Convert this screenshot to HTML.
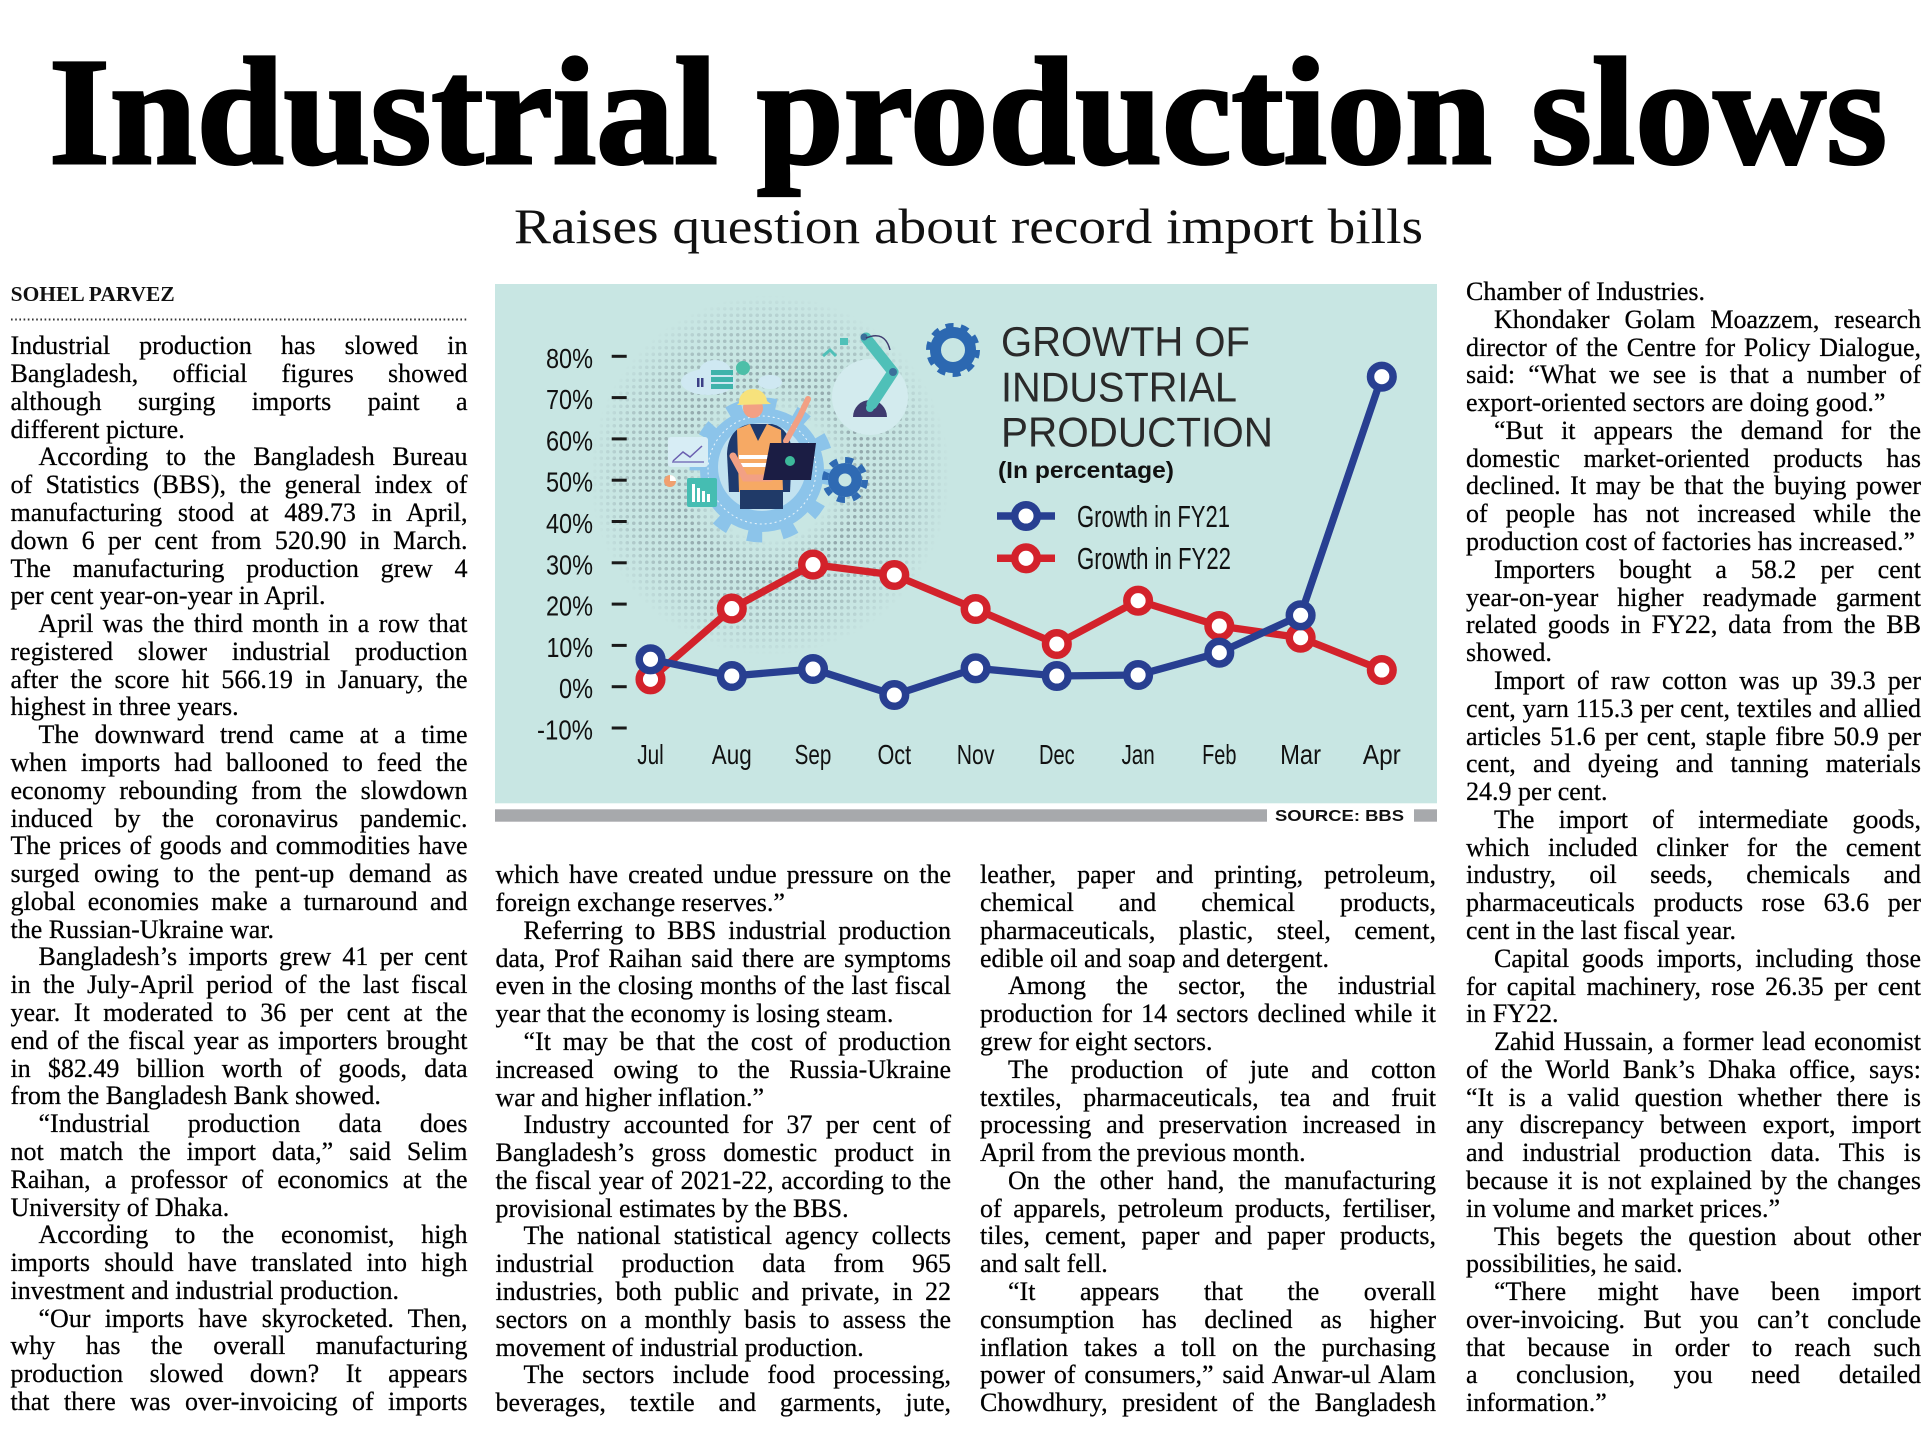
<!DOCTYPE html>
<html>
<head>
<meta charset="utf-8">
<style>
html,body{margin:0;padding:0;background:#fff;}
body{width:1931px;height:1431px;position:relative;overflow:hidden;}
svg.main{position:absolute;left:0;top:0;}
.col{position:absolute;font-family:"Liberation Serif",serif;font-size:26px;line-height:27.78px;color:#000;-webkit-text-stroke:0.25px #000;}
.col div{white-space:nowrap;text-align:justify;text-align-last:justify;}
.col div.e{text-align-last:left;}
.col div.i{text-indent:28px;}
</style>
</head>
<body>
<svg class="main" width="1931" height="1431" viewBox="0 0 1931 1431" xmlns="http://www.w3.org/2000/svg">
  <defs>
    <pattern id="dp" width="6.5" height="6.5" patternUnits="userSpaceOnUse"><circle cx="3.25" cy="3.25" r="1.8" fill="#8a9ea3"/></pattern>
    <radialGradient id="rg" cx="770" cy="475" r="180" gradientUnits="userSpaceOnUse">
      <stop offset="0.36" stop-color="#fff" stop-opacity="0"/>
      <stop offset="0.52" stop-color="#fff" stop-opacity="1"/>
      <stop offset="0.8" stop-color="#fff" stop-opacity="0.6"/>
      <stop offset="1" stop-color="#fff" stop-opacity="0"/>
    </radialGradient>
    <mask id="m"><circle cx="770" cy="475" r="180" fill="url(#rg)"/></mask>
  </defs>

  <!-- Headline -->
  <text x="49" y="163" font-family="Liberation Serif, serif" font-weight="bold" font-size="153" textLength="1838" lengthAdjust="spacingAndGlyphs" fill="#000" stroke="#000" stroke-width="3">Industrial production slows</text>
  <text x="514" y="243" font-family="Liberation Serif, serif" font-size="50" textLength="909" lengthAdjust="spacingAndGlyphs" fill="#111">Raises question about record import bills</text>

  <!-- Byline -->
  <text x="10.7" y="301" font-family="Liberation Serif, serif" font-weight="bold" font-size="21" textLength="164" lengthAdjust="spacingAndGlyphs" fill="#111">SOHEL PARVEZ</text>
  <line x1="11" y1="319.5" x2="467" y2="319.5" stroke="#333" stroke-width="2" stroke-dasharray="1.6 2.6"/>

  <!-- Chart panel -->
  <rect x="495" y="284" width="942" height="519.3" fill="#c8e6e3"/>
  <rect x="495" y="809.3" width="772" height="12.4" fill="#a7a9ac"/>
  <rect x="1414" y="809.3" width="23" height="12.4" fill="#a7a9ac"/>
  <text x="1275" y="821" font-family="Liberation Sans, sans-serif" font-weight="bold" font-size="15.5" textLength="129" lengthAdjust="spacingAndGlyphs" fill="#111">SOURCE: BBS</text>

  <!-- Illustration -->
  <rect x="585" y="290" width="370" height="365" fill="url(#dp)" mask="url(#m)" opacity="0.85"/>
  <circle cx="870" cy="397" r="38" fill="#d3ebee"/>
  <circle cx="762" cy="470" r="67" fill="none" stroke="#8cc4ea" stroke-width="11" stroke-dasharray="15 20"/>
  <circle cx="762" cy="470" r="62" fill="#8cc4ea"/>
  <circle cx="762" cy="470" r="54" fill="none" stroke="#eaf5fb" stroke-width="1" stroke-dasharray="2 3"/>
  <circle cx="762" cy="467" r="44" fill="#c2e2f0"/>
  <ellipse cx="708" cy="382" rx="27" ry="13" fill="#cfe8f2"/>
  <ellipse cx="715" cy="372" rx="16" ry="12" fill="#cfe8f2"/>
  <ellipse cx="770" cy="382" rx="12" ry="7" fill="#cfe8f2"/>
  <rect x="711" y="370" width="22" height="5" fill="#3fb3ab"/>
  <rect x="711" y="377" width="22" height="5" fill="#3fb3ab"/>
  <rect x="711" y="384" width="22" height="5" fill="#3fb3ab"/>
  <rect x="697" y="378" width="2.5" height="9" fill="#3b3f85"/>
  <rect x="701" y="378" width="2.5" height="9" fill="#3b3f85"/>
  <circle cx="743" cy="368" r="7" fill="#4dbfa8"/>
  <rect x="668" y="437" width="40" height="30" rx="3" fill="#d7edf5"/>
  <polyline points="673,461 683,452 690,457 702,446" fill="none" stroke="#6a5fb0" stroke-width="1.5"/>
  <line x1="672" y1="462" x2="704" y2="462" stroke="#6a5fb0" stroke-width="1.2"/>
  <circle cx="670" cy="481" r="6" fill="#f0a070"/>
  <path d="M670,481 L670,475 A6,6 0 0,1 676,481 Z" fill="#fff"/>
  <rect x="687" y="478" width="30" height="29" rx="2" fill="#45bdb2"/>
  <rect x="692" y="484" width="3" height="18" fill="#fff"/>
  <rect x="697" y="488" width="3" height="14" fill="#fff"/>
  <rect x="702" y="491" width="3" height="11" fill="#fff"/>
  <rect x="707" y="494" width="3" height="8" fill="#fff"/>
  <path d="M727,454 Q728,428 750,424 L772,424 Q790,428 792,452 L790,492 L729,492 Z" fill="#1e3a6e"/>
  <path d="M737,429 L750,424 L758,441 L767,424 L781,430 L783,492 L739,492 Z" fill="#f6a964"/>
  <rect x="739" y="455" width="44" height="4" fill="#fff"/>
  <rect x="739" y="463" width="44" height="4" fill="#fff"/>
  <rect x="740" y="490" width="43" height="19" fill="#203a68"/>
  <circle cx="753" cy="408" r="10" fill="#f2a084"/>
  <path d="M739,403 A14,13 0 0,1 767,401 L771,404 L737,405 Z" fill="#f7e27c"/>
  <polyline points="786,441 800,416 808,399" fill="none" stroke="#f2a084" stroke-width="6" stroke-linecap="round"/>
  <polyline points="733,456 745,478 770,478" fill="none" stroke="#f2a084" stroke-width="7" stroke-linecap="round"/>
  <polygon points="770,443 816,443 811,480 763,480" fill="#1b1d44"/>
  <circle cx="790" cy="461" r="5" fill="#3db99a"/>
  <circle cx="845" cy="480" r="20" fill="none" stroke="#2f6ab3" stroke-width="6" stroke-dasharray="8 7.7"/>
  <circle cx="845" cy="480" r="17" fill="#2f6ab3"/>
  <circle cx="845" cy="480" r="6.5" fill="#c8e6e3"/>
  <path d="M853,417 A17,17 0 0,1 887,417 Z" fill="#3f3b6f"/>
  <polyline points="872,404 893,372 866,338" fill="none" stroke="#4fc0b8" stroke-width="11" stroke-linecap="round" stroke-linejoin="round"/>
  <circle cx="893" cy="372" r="4" fill="#3b6f9a"/>
  <circle cx="864" cy="337" r="3.5" fill="#3b6f9a"/>
  <circle cx="870" cy="408" r="4" fill="#4fc0b8"/>
  <path d="M866,338 Q885,330 890,350" fill="none" stroke="#3f3b6f" stroke-width="1.5"/>
  <polyline points="823,356 830,350 836,356" fill="none" stroke="#4fc0b8" stroke-width="3"/>
  <rect x="840" y="338" width="8" height="7" fill="#4fc0b8"/>
  <circle cx="953" cy="350" r="24.5" fill="none" stroke="#2c68b1" stroke-width="5" stroke-dasharray="8 7.4"/>
  <circle cx="953" cy="350" r="17.5" fill="none" stroke="#2c68b1" stroke-width="11"/>

  <!-- Legend / title -->
  <g font-family="Liberation Sans, sans-serif" fill="#2a2a2a">
    <text x="1001" y="356" font-size="42" textLength="249" lengthAdjust="spacingAndGlyphs">GROWTH OF</text>
    <text x="1001" y="401.7" font-size="42" textLength="236" lengthAdjust="spacingAndGlyphs">INDUSTRIAL</text>
    <text x="1001" y="446.7" font-size="42" textLength="272" lengthAdjust="spacingAndGlyphs">PRODUCTION</text>
  </g>
  <g font-family="Liberation Sans Narrow, Liberation Sans, sans-serif" fill="#111">
    <text x="998" y="478" font-size="23" font-weight="bold" textLength="176" lengthAdjust="spacingAndGlyphs">(In percentage)</text>
    <text x="1077" y="527" font-size="31" textLength="153" lengthAdjust="spacingAndGlyphs">Growth in FY21</text>
    <text x="1077" y="569" font-size="31" textLength="154" lengthAdjust="spacingAndGlyphs">Growth in FY22</text>
  </g>
  <line x1="997" y1="516" x2="1055" y2="516" stroke="#283f91" stroke-width="7.5"/>
  <circle cx="1026" cy="516" r="11.3" fill="#fff" stroke="#283f91" stroke-width="7.5"/>
  <line x1="997" y1="558.3" x2="1055" y2="558.3" stroke="#d3222b" stroke-width="7.5"/>
  <circle cx="1026" cy="558.3" r="11.3" fill="#fff" stroke="#d3222b" stroke-width="7.5"/>

  <!-- Y axis ticks -->
  <g stroke="#1a1a1a" stroke-width="3">
    <line x1="611.7" y1="356.3" x2="626.7" y2="356.3"/>
    <line x1="611.7" y1="397.6" x2="626.7" y2="397.6"/>
    <line x1="611.7" y1="438.9" x2="626.7" y2="438.9"/>
    <line x1="611.7" y1="480.2" x2="626.7" y2="480.2"/>
    <line x1="611.7" y1="521.5" x2="626.7" y2="521.5"/>
    <line x1="611.7" y1="562.8" x2="626.7" y2="562.8"/>
    <line x1="611.7" y1="604.1" x2="626.7" y2="604.1"/>
    <line x1="611.7" y1="645.4" x2="626.7" y2="645.4"/>
    <line x1="611.7" y1="686.7" x2="626.7" y2="686.7"/>
    <line x1="611.7" y1="728.0" x2="626.7" y2="728.0"/>
  </g>
  <g font-family="Liberation Sans Narrow, Liberation Sans, sans-serif" font-size="28" fill="#111">
    <text x="546" y="367.8" textLength="47" lengthAdjust="spacingAndGlyphs">80%</text>
    <text x="546" y="409.1" textLength="47" lengthAdjust="spacingAndGlyphs">70%</text>
    <text x="546" y="450.4" textLength="47" lengthAdjust="spacingAndGlyphs">60%</text>
    <text x="546" y="491.7" textLength="47" lengthAdjust="spacingAndGlyphs">50%</text>
    <text x="546" y="533.0" textLength="47" lengthAdjust="spacingAndGlyphs">40%</text>
    <text x="546" y="574.3" textLength="47" lengthAdjust="spacingAndGlyphs">30%</text>
    <text x="546" y="615.6" textLength="47" lengthAdjust="spacingAndGlyphs">20%</text>
    <text x="546.5" y="656.9" textLength="46.5" lengthAdjust="spacingAndGlyphs">10%</text>
    <text x="559" y="698.2" textLength="34" lengthAdjust="spacingAndGlyphs">0%</text>
    <text x="537" y="739.5" textLength="56" lengthAdjust="spacingAndGlyphs">-10%</text>
    <text x="650.5" y="764" text-anchor="middle" textLength="26.6" lengthAdjust="spacingAndGlyphs">Jul</text>
    <text x="731.8" y="764" text-anchor="middle" textLength="40" lengthAdjust="spacingAndGlyphs">Aug</text>
    <text x="813.0" y="764" text-anchor="middle" textLength="36.7" lengthAdjust="spacingAndGlyphs">Sep</text>
    <text x="894.3" y="764" text-anchor="middle" textLength="33.7" lengthAdjust="spacingAndGlyphs">Oct</text>
    <text x="975.6" y="764" text-anchor="middle" textLength="37.7" lengthAdjust="spacingAndGlyphs">Nov</text>
    <text x="1056.8" y="764" text-anchor="middle" textLength="35.7" lengthAdjust="spacingAndGlyphs">Dec</text>
    <text x="1138.1" y="764" text-anchor="middle" textLength="33.3" lengthAdjust="spacingAndGlyphs">Jan</text>
    <text x="1219.3" y="764" text-anchor="middle" textLength="34.3" lengthAdjust="spacingAndGlyphs">Feb</text>
    <text x="1300.6" y="764" text-anchor="middle" textLength="41" lengthAdjust="spacingAndGlyphs">Mar</text>
    <text x="1381.8" y="764" text-anchor="middle" textLength="38" lengthAdjust="spacingAndGlyphs">Apr</text>
  </g>

  <!-- FY22 red series -->
  <polyline points="650.5,679.3 731.8,608.6 813.0,564.6 894.3,575 975.6,609 1056.8,644 1138.1,600.7 1219.3,626 1300.6,637.7 1381.8,670" fill="none" stroke="#d3222b" stroke-width="7.3" stroke-linejoin="round"/>
  <g fill="#fff" stroke="#d3222b" stroke-width="7.5">
    <circle cx="650.5" cy="679.3" r="11.3"/>
    <circle cx="731.8" cy="608.6" r="11.3"/>
    <circle cx="813.0" cy="564.6" r="11.3"/>
    <circle cx="894.3" cy="575" r="11.3"/>
    <circle cx="975.6" cy="609" r="11.3"/>
    <circle cx="1056.8" cy="644" r="11.3"/>
    <circle cx="1138.1" cy="600.7" r="11.3"/>
    <circle cx="1219.3" cy="626" r="11.3"/>
    <circle cx="1300.6" cy="637.7" r="11.3"/>
    <circle cx="1381.8" cy="670" r="11.3"/>
  </g>
  <!-- FY21 blue series -->
  <polyline points="650.5,659.3 731.8,676 813.0,669 894.3,695 975.6,668.3 1056.8,676 1138.1,675 1219.3,652.7 1300.6,615.3 1381.8,376.7" fill="none" stroke="#283f91" stroke-width="7.3" stroke-linejoin="round"/>
  <g fill="#fff" stroke="#283f91" stroke-width="7.5">
    <circle cx="650.5" cy="659.3" r="11.3"/>
    <circle cx="731.8" cy="676" r="11.3"/>
    <circle cx="813.0" cy="669" r="11.3"/>
    <circle cx="894.3" cy="695" r="11.3"/>
    <circle cx="975.6" cy="668.3" r="11.3"/>
    <circle cx="1056.8" cy="676" r="11.3"/>
    <circle cx="1138.1" cy="675" r="11.3"/>
    <circle cx="1219.3" cy="652.7" r="11.3"/>
    <circle cx="1300.6" cy="615.3" r="11.3"/>
    <circle cx="1381.8" cy="376.7" r="11.3"/>
  </g>
</svg>

<div class="col" style="left:10.5px;top:332.3px;width:457px;">
<div>Industrial production has slowed in</div>
<div>Bangladesh, official figures showed</div>
<div>although surging imports paint a</div>
<div class="e">different picture.</div>
<div class="i">According to the Bangladesh Bureau</div>
<div>of Statistics (BBS), the general index of</div>
<div>manufacturing stood at 489.73 in April,</div>
<div>down 6 per cent from 520.90 in March.</div>
<div>The manufacturing production grew 4</div>
<div class="e">per cent year-on-year in April.</div>
<div class="i">April was the third month in a row that</div>
<div>registered slower industrial production</div>
<div>after the score hit 566.19 in January, the</div>
<div class="e">highest in three years.</div>
<div class="i">The downward trend came at a time</div>
<div>when imports had ballooned to feed the</div>
<div>economy rebounding from the slowdown</div>
<div>induced by the coronavirus pandemic.</div>
<div>The prices of goods and commodities have</div>
<div>surged owing to the pent-up demand as</div>
<div>global economies make a turnaround and</div>
<div class="e">the Russian-Ukraine war.</div>
<div class="i">Bangladesh’s imports grew 41 per cent</div>
<div>in the July-April period of the last fiscal</div>
<div>year. It moderated to 36 per cent at the</div>
<div>end of the fiscal year as importers brought</div>
<div>in $82.49 billion worth of goods, data</div>
<div class="e">from the Bangladesh Bank showed.</div>
<div class="i">“Industrial production data does</div>
<div>not match the import data,” said Selim</div>
<div>Raihan, a professor of economics at the</div>
<div class="e">University of Dhaka.</div>
<div class="i">According to the economist, high</div>
<div>imports should have translated into high</div>
<div class="e">investment and industrial production.</div>
<div class="i">“Our imports have skyrocketed. Then,</div>
<div>why has the overall manufacturing</div>
<div>production slowed down? It appears</div>
<div>that there was over-invoicing of imports</div>
</div>

<div class="col" style="left:495.5px;top:861.3px;width:455.5px;">
<div>which have created undue pressure on the</div>
<div class="e">foreign exchange reserves.”</div>
<div class="i">Referring to BBS industrial production</div>
<div>data, Prof Raihan said there are symptoms</div>
<div>even in the closing months of the last fiscal</div>
<div class="e">year that the economy is losing steam.</div>
<div class="i">“It may be that the cost of production</div>
<div>increased owing to the Russia-Ukraine</div>
<div class="e">war and higher inflation.”</div>
<div class="i">Industry accounted for 37 per cent of</div>
<div>Bangladesh’s gross domestic product in</div>
<div>the fiscal year of 2021-22, according to the</div>
<div class="e">provisional estimates by the BBS.</div>
<div class="i">The national statistical agency collects</div>
<div>industrial production data from 965</div>
<div>industries, both public and private, in 22</div>
<div>sectors on a monthly basis to assess the</div>
<div class="e">movement of industrial production.</div>
<div class="i">The sectors include food processing,</div>
<div>beverages, textile and garments, jute,</div>
</div>

<div class="col" style="left:980px;top:861.3px;width:456px;">
<div>leather, paper and printing, petroleum,</div>
<div>chemical and chemical products,</div>
<div>pharmaceuticals, plastic, steel, cement,</div>
<div class="e">edible oil and soap and detergent.</div>
<div class="i">Among the sector, the industrial</div>
<div>production for 14 sectors declined while it</div>
<div class="e">grew for eight sectors.</div>
<div class="i">The production of jute and cotton</div>
<div>textiles, pharmaceuticals, tea and fruit</div>
<div>processing and preservation increased in</div>
<div class="e">April from the previous month.</div>
<div class="i">On the other hand, the manufacturing</div>
<div>of apparels, petroleum products, fertiliser,</div>
<div>tiles, cement, paper and paper products,</div>
<div class="e">and salt fell.</div>
<div class="i">“It appears that the overall</div>
<div>consumption has declined as higher</div>
<div>inflation takes a toll on the purchasing</div>
<div>power of consumers,” said Anwar-ul Alam</div>
<div>Chowdhury, president of the Bangladesh</div>
</div>

<div class="col" style="left:1466px;top:278px;width:455px;">
<div class="e">Chamber of Industries.</div>
<div class="i">Khondaker Golam Moazzem, research</div>
<div>director of the Centre for Policy Dialogue,</div>
<div>said: “What we see is that a number of</div>
<div class="e">export-oriented sectors are doing good.”</div>
<div class="i">“But it appears the demand for the</div>
<div>domestic market-oriented products has</div>
<div>declined. It may be that the buying power</div>
<div>of people has not increased while the</div>
<div class="e">production cost of factories has increased.”</div>
<div class="i">Importers bought a 58.2 per cent</div>
<div>year-on-year higher readymade garment</div>
<div>related goods in FY22, data from the BB</div>
<div class="e">showed.</div>
<div class="i">Import of raw cotton was up 39.3 per</div>
<div>cent, yarn 115.3 per cent, textiles and allied</div>
<div>articles 51.6 per cent, staple fibre 50.9 per</div>
<div>cent, and dyeing and tanning materials</div>
<div class="e">24.9 per cent.</div>
<div class="i">The import of intermediate goods,</div>
<div>which included clinker for the cement</div>
<div>industry, oil seeds, chemicals and</div>
<div>pharmaceuticals products rose 63.6 per</div>
<div class="e">cent in the last fiscal year.</div>
<div class="i">Capital goods imports, including those</div>
<div>for capital machinery, rose 26.35 per cent</div>
<div class="e">in FY22.</div>
<div class="i">Zahid Hussain, a former lead economist</div>
<div>of the World Bank’s Dhaka office, says:</div>
<div>“It is a valid question whether there is</div>
<div>any discrepancy between export, import</div>
<div>and industrial production data. This is</div>
<div>because it is not explained by the changes</div>
<div class="e">in volume and market prices.”</div>
<div class="i">This begets the question about other</div>
<div class="e">possibilities, he said.</div>
<div class="i">“There might have been import</div>
<div>over-invoicing. But you can’t conclude</div>
<div>that because in order to reach such</div>
<div>a conclusion, you need detailed</div>
<div class="e">information.”</div>
</div>

<script>
document.querySelectorAll('.col div').forEach(function(d){
  var over = d.scrollWidth - d.clientWidth;
  if (over > 0) {
    var n = d.textContent.length;
    d.style.letterSpacing = (-(over + 1) / n) + 'px';
  }
});
</script>
</body>
</html>
